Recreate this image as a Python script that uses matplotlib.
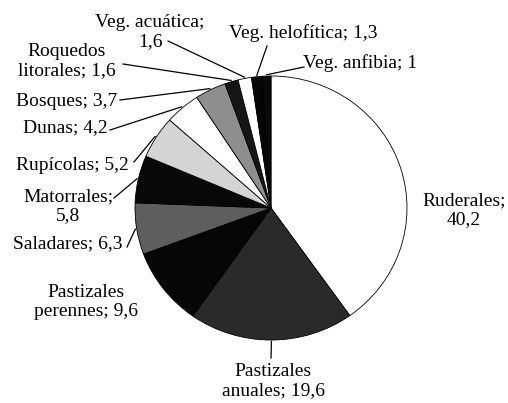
import numpy as np
import matplotlib
matplotlib.use("Agg")
import matplotlib.pyplot as plt

categories = ["Ruderales", "Pastizales anuales", "Pastizales perennes", "Saladares",
              "Matorrales", "Rupícolas", "Dunas", "Bosques", "Roquedos litorales",
              "Veg. acuática", "Veg. helofítica", "Veg. anfibia"]
values = [40.2, 19.6, 9.6, 6.3, 5.8, 5.2, 4.2, 3.7, 1.6, 1.6, 1.3, 1.0]
label_texts = ["Ruderales;\n40,2", "Pastizales\nanuales; 19,6", "Pastizales\nperennes; 9,6",
               "Saladares; 6,3", "Matorrales;\n5,8", "Rupícolas; 5,2", "Dunas; 4,2",
               "Bosques; 3,7", "Roquedos\nlitorales; 1,6", "Veg. acuática;\n1,6",
               "Veg. helofítica; 1,3", "Veg. anfibia; 1"]

colors = ["#ffffff", "#2a2a2a", "#060606", "#5e5e5e", "#080808", "#d4d4d4",
          "#ffffff", "#8e8e8e", "#161616", "#ffffff", "#050505", "#0a0a0a"]

W, H = 508, 403
fig = plt.figure(figsize=(W / 100, H / 100), dpi=100)

# pie axes (slightly wider than tall, like the scanned original)
cx, cy, rx, ry = 271, 208, 136, 132
axp = fig.add_axes([(cx - rx) / W, (H - cy - ry) / H, 2 * rx / W, 2 * ry / H])
wedges, _ = axp.pie(values, colors=colors, startangle=90, counterclock=False,
                    radius=1.0, wedgeprops=dict(linewidth=0.6, edgecolor="black"))
axp.set_aspect("auto")
axp.set_xlim(-1, 1)
axp.set_ylim(-1, 1)
axp.axis("off")

# overlay axes in pixel coordinates (y from top) for labels and leaders
ax0 = fig.add_axes([0, 0, 1, 1], facecolor="none")
ax0.set_xlim(0, W)
ax0.set_ylim(H, 0)
ax0.axis("off")

font = dict(family="Liberation Serif", fontsize=14, color="black")

label_pos = [(464, 210), (273, 381), (86, 302), (68, 244), (68, 206), (72, 165),
             (65, 128), (67, 101), (67, 61), (150, 32), (303, 33), (360, 63)]
for txt, (x, y) in zip(label_texts, label_pos):
    ax0.text(x, y, txt, ha="center", va="center", linespacing=1.1, **font)

# leader line start points near labels (None = no leader)
leader_start = [None, (271, 358), None, (127, 247), (114, 198), (134, 162), (110, 130),
                (120, 100), (123, 64), (168, 41), (267, 46), (304, 67)]
to_pix = ax0.transData.inverted()
for w, start in zip(wedges, leader_start):
    if start is None:
        continue
    mid = np.deg2rad((w.theta1 + w.theta2) / 2)
    edge = axp.transData.transform((1.01 * np.cos(mid), 1.01 * np.sin(mid)))
    ex, ey = to_pix.transform(edge)
    ax0.plot([start[0], ex], [start[1], ey], color="black", lw=0.9)

fig.savefig("out.png", dpi=100)
